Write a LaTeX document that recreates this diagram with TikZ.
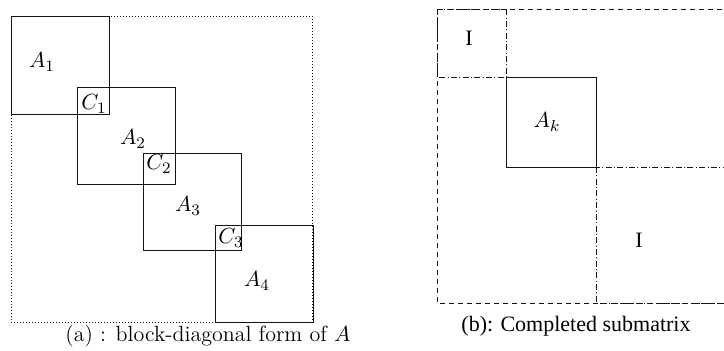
\documentclass[tikz,border=0pt]{standalone}
\usepackage{fontspec}
\newfontfamily\timesfont{Liberation Serif}
\definecolor{boxline}{RGB}{20, 20, 20}

\begin{document}
\begin{tikzpicture}[
    x = 0.5pt, y = -0.5pt,
    blockbox/.style   = {draw = boxline, line width = 0.5pt},
    dotbox/.style     = {draw = boxline, line width = 0.45pt, dash pattern = on 0.45pt off 1.05pt},
    dashbox/.style    = {draw = boxline, line width = 0.45pt, dash pattern = on 2.5pt off 2pt},
    dotdashbox/.style = {draw = boxline, line width = 0.45pt, dash pattern = on 3pt off 1.2pt on 0.45pt off 1.2pt},
    lbl/.style        = {inner sep = 0pt, font = \fontsize{11}{13}\selectfont},
    caption/.style    = {inner sep = 0pt, font = \fontsize{11}{13}\selectfont}
]
    \useasboundingbox (0,0) rectangle (724,350);

    % (a) block-diagonal form
    \draw[dotbox]   (11,16)  rectangle (312,322);
    \draw[blockbox] (11,16)  rectangle (109,114);
    \draw[blockbox] (77,87)  rectangle (175,184);
    \draw[blockbox] (143,153) rectangle (241,250);
    \draw[blockbox] (215,225) rectangle (313,322);

    \node[lbl] (A1) at (42,62)   {$A_1$};
    \node[lbl] (C1) at (94,104)  {$C_1$};
    \node[lbl] (A2) at (133,139) {$A_2$};
    \node[lbl] (C2) at (159,164) {$C_2$};
    \node[lbl] (A3) at (188,206) {$A_3$};
    \node[lbl] (C3) at (231,238) {$C_3$};
    \node[lbl] (A4) at (257,281) {$A_4$};

    \node[caption] (capa) at (208,336) {(a) : block-diagonal form of $A$};

    % (b) completed submatrix
    \draw[dashbox]    (437,9)   rectangle (731,303);
    \draw[dotdashbox] (437,9)   rectangle (506,77);
    \draw[dotdashbox] (596,167) rectangle (731,303);
    \draw[blockbox]   (506,77)  rectangle (596,167);

    \node[lbl] (I1) at (469,38)  {\timesfont I};
    \node[lbl] (Ak) at (547,122) {$A_k$};
    \node[lbl] (I2) at (639,240) {\timesfont I};

    \node[caption] (capb) at (576,326) {\timesfont (b): Completed submatrix};
\end{tikzpicture}
\end{document}
